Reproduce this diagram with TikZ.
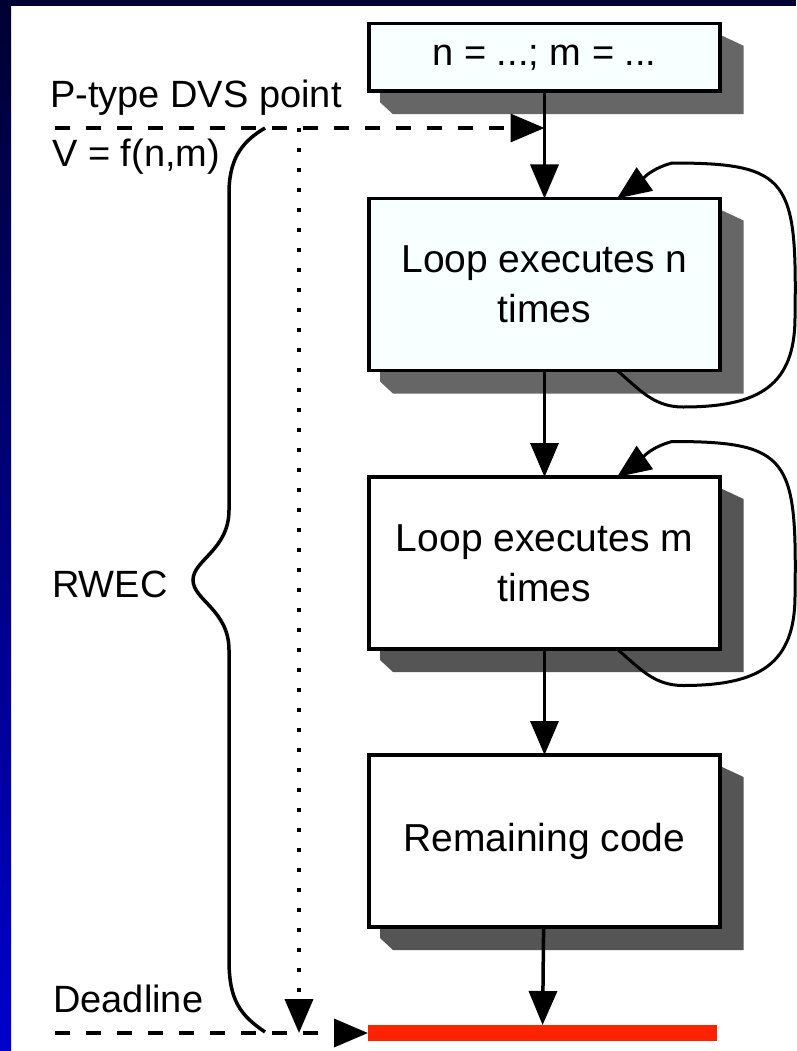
\documentclass[tikz,border=0pt]{standalone}
\usepackage{fontspec}
\setmainfont{Liberation Sans}
\usetikzlibrary{arrows.meta,backgrounds,calc}

\definecolor{navyband}{HTML}{000033}
\definecolor{blueband}{HTML}{0000CC}
\definecolor{boxfill}{HTML}{F7FFFF}
\definecolor{shadeA}{HTML}{666666}
\definecolor{shadeB}{HTML}{555555}
\definecolor{deadred}{HTML}{FF2200}

\tikzset{
    block/.style={draw, line width=3.5pt, minimum width=351pt, inner sep=0pt,
                  outer sep=0pt, align=center},
    bigtext/.style={font=\fontsize{39}{50}\selectfont},
    flow/.style={->, line width=3.5pt},
    marker/.style={->, line width=3.5pt, dash pattern=on 15pt off 16pt},
    dots/.style={->, line width=4pt, dash pattern=on 4pt off 16pt},
    lbl/.style={anchor=base west, inner sep=0pt},
}

\begin{document}
\begin{tikzpicture}[x=1pt, y=1pt, >={Triangle[length=34pt,width=28pt]},
                    font=\fontsize{38}{50}\selectfont]
    \pgfmathsetmacro {\cx}{544.5}  %x of the flow column
    \useasboundingbox (0,0) rectangle (796,-1051);

    % Flow boxes
    \node[block, fill=boxfill, minimum height=67.5pt] (init)  at (\cx,-57.5) {n = ...; m = ...};
    \node[block, bigtext, fill=boxfill, minimum height=172pt] (loopn) at (\cx,-284.5) {Loop executes n\\times};
    \node[block, bigtext, fill=white,   minimum height=172pt] (loopm) at (\cx,-563) {Loop executes m\\times};
    \node[block, bigtext, fill=white,   minimum height=172pt] (rest)  at (\cx,-841) {Remaining code};
    \node[fill=deadred, minimum width=349pt, minimum height=16pt, inner sep=0pt,
          outer sep=0pt] (bar) at (542.5,-1033) {};

    % Arrows down the column
    \draw[flow] (init)  -- (loopn);
    \draw[flow] (loopn) -- (loopm);
    \draw[flow] (loopm) -- (rest);
    \draw[flow] (rest)  -- (bar);

    % Loops back to the top of each loop box
    \foreach \b in {loopn,loopm} {
        \begin{scope}[shift={(\b.center)}]
            \draw[flow, line width=3pt] (72.5,-86)
                to[out=-40,in=180] (138.5,-122.5)
                .. controls (215.5,-122.5) and (250.5,-100.5) .. (250.5,-32.5)
                .. controls (252.5,104.5) and (245.5,121.5) .. (127.5,121.5)
                to[out=195,in=35] (72.5,86);
        \end{scope}
    }

    % Left labels
    \node[lbl] (ptype) at (50,-108)  {P-type DVS point};
    \node[lbl] (vfun)  at (52,-167)  {V = f(n,m)};
    \node[lbl] (rwec)  at (52,-597)  {RWEC};
    \node[lbl] (dl)    at (53,-1012) {Deadline};

    % DVS point and deadline markers
    \coordinate (dvs)  at (55,-128);
    \coordinate (due)  at (55,-1033);
    \coordinate (dtop) at (299,-128);
    \draw[marker] (dvs) -- (init.south |- dvs);
    \draw[marker] (due) -- (bar.west);
    \draw[dots] (dtop) -- (dtop |- due);

    % Brace for RWEC
    \coordinate (btop) at (265,-128);
    \coordinate (bbot) at (265,-1032);
    \draw[line width=3.5pt] (btop) .. controls (245,-140) and (230,-155) .. (229,-190)
        -- (229,-510) .. controls (229,-550) and (193,-560) .. (193,-580)
        .. controls (193,-600) and (229,-610) .. (229,-650)
        -- (229,-960) .. controls (229,-1000) and (240,-1015) .. (bbot);

    \begin{scope}[on background layer]
        % Slide frame
        \fill[white] (0,0) rectangle (796,-1051);
        \shade[top color=navyband, bottom color=blueband] (0,0) rectangle (11,-1051);
        \fill[navyband] (0,0) rectangle (796,-6);
        % Box shadows
        \foreach \b/\c in {init/shadeA, loopn/shadeA, loopm/shadeB, rest/shadeB} {
            \fill[\c] ($(\b.south west)+(11,0)$) -- ++(0,-11)
                -- ($(\b.south west)+(24,-23)$) -- ($(\b.south east)+(23.5,-23)$)
                -- ($(\b.north east)+(23.5,-22)$) -- ($(\b.north east)+(0,-11)$) -- cycle;
        }
    \end{scope}
\end{tikzpicture}
\end{document}
